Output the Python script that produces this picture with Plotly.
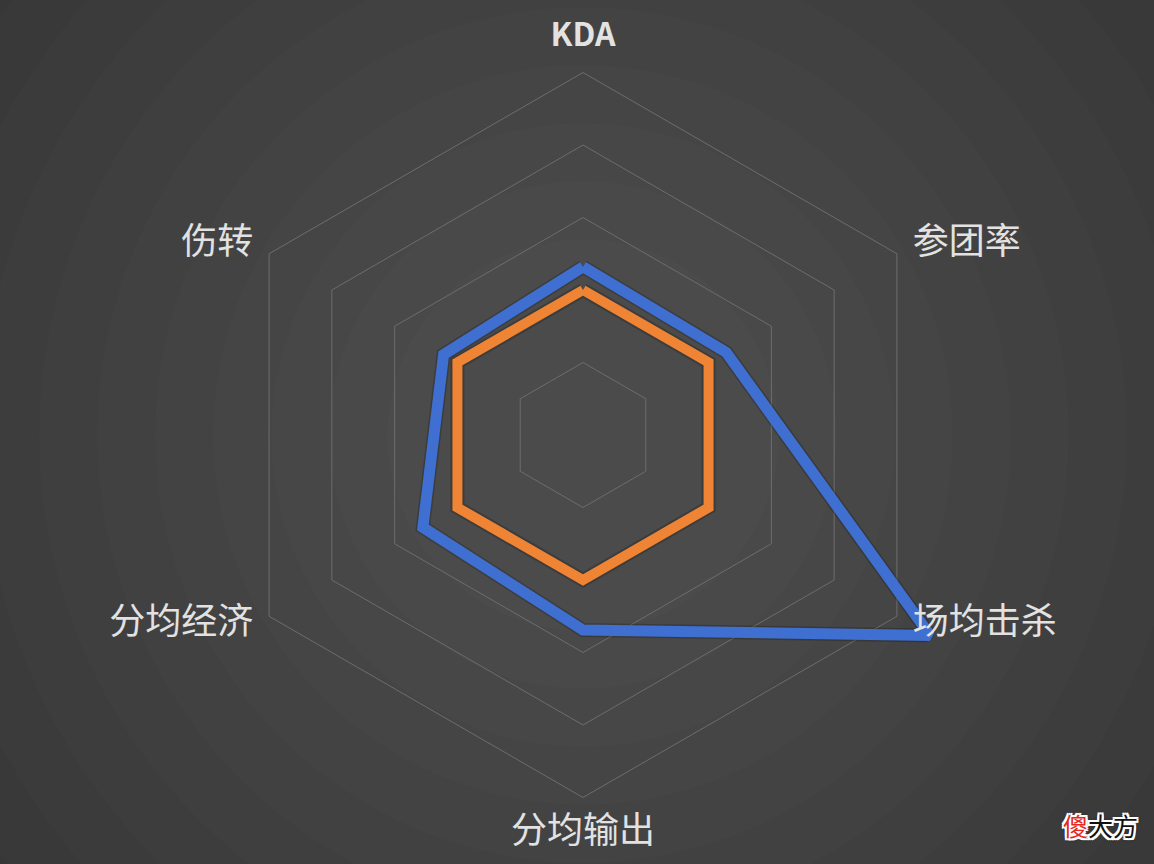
import plotly.graph_objects as go

categories = ["KDA", "参团率", "场均击杀", "分均输出", "分均经济", "伤转"]
tick_labels = ["<b>KDA</b>", "参团率", "场均击杀", "分均输出", "分均经济", "伤转"]
series_blue = [2.32, 2.28, 5.53, 2.69, 2.55, 2.22]
series_orange = [2.0, 2.0, 2.0, 2.0, 2.0, 2.0]
grid_values = [1, 2, 3, 4, 5]

W, H = 1154, 864
cx, cy = 583, 435
R = 406  # pixel radius of polar area
LABEL_R = 5.25
label_pos = ["top center", "middle right", "middle right",
             "bottom center", "middle left", "middle left"]
label_size = [32, 36, 36, 36, 36, 36]

def closed(v):
    return list(v) + [v[0]]

fig = go.Figure()
# soft shadows under the series lines
for vals in (series_blue, series_orange):
    fig.add_trace(go.Scatterpolar(
        r=closed(vals), theta=closed(categories), mode="lines",
        line=dict(color="rgba(0,0,0,0.2)", width=14), showlegend=False,
        hoverinfo="skip"))
fig.add_trace(go.Scatterpolar(
    r=closed(series_blue), theta=closed(categories), mode="lines",
    line=dict(color="#3f6fd1", width=11), showlegend=False, hoverinfo="skip"))
fig.add_trace(go.Scatterpolar(
    r=closed(series_orange), theta=closed(categories), mode="lines",
    line=dict(color="#ee8434", width=10), showlegend=False, hoverinfo="skip"))
fig.add_trace(go.Scatterpolar(
    r=[LABEL_R] * len(categories), theta=categories, mode="text",
    text=tick_labels, textposition=label_pos, cliponaxis=False,
    textfont=dict(size=label_size, color="#e2e2e2",
                  family="Noto Sans CJK SC, Noto Sans, sans-serif"),
    showlegend=False, hoverinfo="skip"))

# radial vignette background
shapes = []
n = 14
for i in range(n):
    rad = 950 - i * 58
    shapes.append(dict(
        type="circle", xref="paper", yref="paper", layer="below",
        x0=(cx - rad) / W, x1=(cx + rad) / W,
        y0=(H - cy - rad) / H, y1=(H - cy + rad) / H,
        fillcolor="rgba(255,255,255,0.011)", line=dict(width=0)))

fig.update_layout(
    width=W, height=H,
    margin=dict(l=0, r=0, t=0, b=0),
    paper_bgcolor="#2f2f2f",
    shapes=shapes,
    font=dict(family="Noto Sans CJK SC, Noto Sans, sans-serif", color="#e2e2e2", size=30),
    polar=dict(
        domain=dict(x=[(cx - R) / W, (cx + R) / W], y=[(H - cy - R) / H, (H - cy + R) / H]),
        bgcolor="rgba(0,0,0,0)",
        gridshape="linear",
        radialaxis=dict(range=[0, 5.6], tickmode="array", tickvals=grid_values,
                        showticklabels=False, ticks="", showline=False,
                        gridcolor="#6d6d6d", gridwidth=1),
        angularaxis=dict(direction="clockwise", rotation=90, showgrid=False,
                         showline=False, ticks="", showticklabels=False),
    ),
    annotations=[dict(
        text="<span style='color:#e8281c'>傻</span>大方", xref="paper", yref="paper",
        x=1100 / W, y=(H - 825) / H, xanchor="center", yanchor="middle",
        showarrow=False,
        font=dict(size=25, color="#111111",
                  shadow=("2px 0 0 #fff, -2px 0 0 #fff, 0 2px 0 #fff, 0 -2px 0 #fff, "
                          "2px 2px 0 #fff, -2px -2px 0 #fff, 2px -2px 0 #fff, -2px 2px 0 #fff, "
                          "0 0 4px #000")))],
)

fig.write_html("out.html", config={"displayModeBar": False},
               post_script="document.body.style.margin='0';document.body.style.background='#2f2f2f';")
